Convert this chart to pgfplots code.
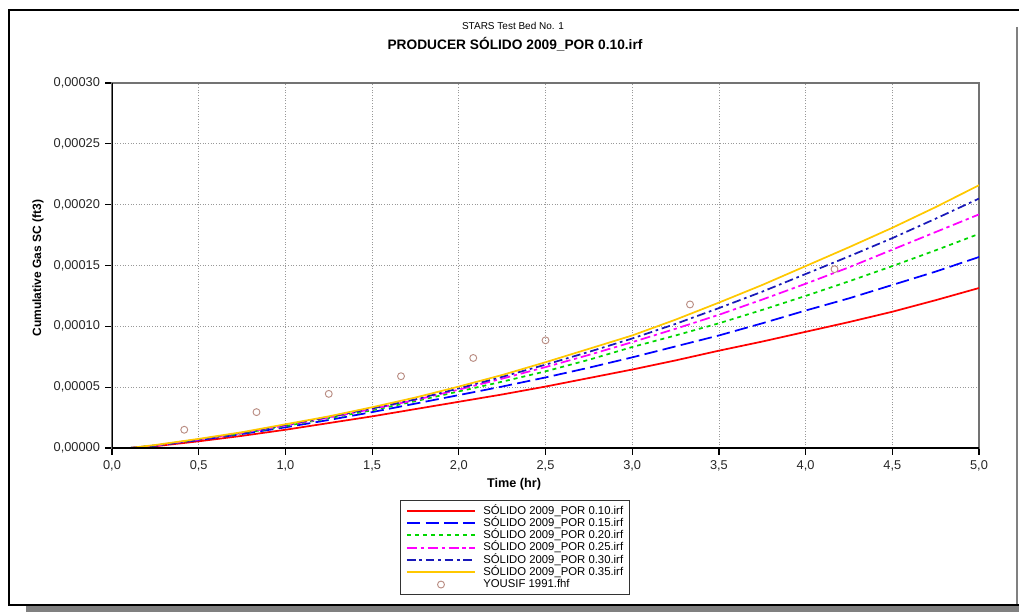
\documentclass[border=0pt]{standalone}
\usepackage{pgfplots}
\usepackage{pgfplotstable}
\pgfplotsset{compat=1.18}
\usepackage{fontspec}
\setmainfont{Liberation Sans}

\definecolor{cred}{RGB}{255,0,0}
\definecolor{cblue}{RGB}{0,0,255}
\definecolor{cgreen}{RGB}{0,215,0}
\definecolor{cmag}{RGB}{255,0,255}
\definecolor{cnavy}{RGB}{25,25,185}
\definecolor{cyel}{RGB}{255,200,0}
\definecolor{cobs}{RGB}{185,140,130}

\pgfplotstableread{
x     r        b        g        m        n        yl
0.00  0        0        0        0        0        0
0.10  0        0        0        0        0        0
0.25  0.15e-5  0.20e-5  0.20e-5  0.20e-5  0.20e-5  0.25e-5
0.50  0.55e-5  0.65e-5  0.70e-5  0.70e-5  0.70e-5  0.75e-5
0.75  1.00e-5  1.15e-5  1.20e-5  1.25e-5  1.25e-5  1.30e-5
1.00  1.50e-5  1.70e-5  1.80e-5  1.85e-5  1.90e-5  1.95e-5
1.25  2.05e-5  2.30e-5  2.45e-5  2.50e-5  2.55e-5  2.60e-5
1.50  2.60e-5  2.95e-5  3.10e-5  3.20e-5  3.25e-5  3.35e-5
1.75  3.20e-5  3.65e-5  3.85e-5  3.95e-5  4.00e-5  4.15e-5
2.00  3.80e-5  4.35e-5  4.65e-5  4.80e-5  4.90e-5  5.05e-5
2.25  4.40e-5  5.05e-5  5.45e-5  5.70e-5  5.85e-5  6.00e-5
2.50  5.05e-5  5.80e-5  6.30e-5  6.65e-5  6.85e-5  7.05e-5
2.75  5.75e-5  6.60e-5  7.25e-5  7.65e-5  7.90e-5  8.15e-5
3.00  6.45e-5  7.45e-5  8.30e-5  8.70e-5  9.00e-5  9.25e-5
3.25  7.20e-5  8.35e-5  9.25e-5  9.80e-5  10.20e-5 10.55e-5
3.50  8.00e-5  9.25e-5  10.25e-5 10.95e-5 11.50e-5 11.95e-5
3.75  8.75e-5  10.25e-5 11.35e-5 12.20e-5 12.85e-5 13.40e-5
4.00  9.55e-5  11.30e-5 12.50e-5 13.50e-5 14.30e-5 14.95e-5
4.25  10.35e-5 12.30e-5 13.70e-5 14.85e-5 15.75e-5 16.50e-5
4.50  11.20e-5 13.40e-5 14.95e-5 16.30e-5 17.25e-5 18.10e-5
4.75  12.15e-5 14.50e-5 16.25e-5 17.75e-5 18.85e-5 19.80e-5
5.00  13.15e-5 15.70e-5 17.60e-5 19.20e-5 20.50e-5 21.60e-5
}\sims

\pgfplotstableread{
x       obs
0.4167  1.50e-5
0.8333  2.95e-5
1.2500  4.45e-5
1.6667  5.90e-5
2.0833  7.40e-5
2.5000  8.85e-5
3.3333  11.80e-5
4.1667  14.70e-5
}\obsdata

\begin{document}
\begin{tikzpicture}[x=0.75pt,y=0.75pt]
\path[use as bounding box] (0,0) rectangle (1019,612);
% outer frame
\fill[black!50] (26,0) rectangle (1019,6);
\draw[line width=1.5pt] (1019,602) -- (9,602) -- (9,7.5) -- (1019,7.5);
\draw[black!50, line width=1pt] (1017,585) -- (1017,8);
% titles
\node[font=\fontsize{7.5}{9}\selectfont] at (513,586) {STARS Test Bed No. 1};
\node[font=\fontsize{10.3}{12}\selectfont\bfseries] at (515,568) {PRODUCER SÓLIDO 2009\_POR 0.10.irf};
% axis labels
\node[font=\fontsize{9.5}{11}\selectfont\bfseries] at (514,128) {Time (hr)};
\node[font=\fontsize{9}{11}\selectfont\bfseries, rotate=90] at (38,344) {Cumulative Gas SC (ft3)};

\begin{axis}[
  at={(84pt,123pt)}, anchor=south west,
  scale only axis,
  width=650.25pt, height=273.75pt,
  xmin=0, xmax=5, ymin=0, ymax=0.0003,
  xtick={0,0.5,1,1.5,2,2.5,3,3.5,4,4.5,5},
  xticklabels={{0,0},{0,5},{1,0},{1,5},{2,0},{2,5},{3,0},{3,5},{4,0},{4,5},{5,0}},
  ytick={0,0.00005,0.0001,0.00015,0.0002,0.00025,0.0003},
  yticklabels={{0,00000},{0,00005},{0,00010},{0,00015},{0,00020},{0,00025},{0,00030}},
  scaled y ticks=false,
  tick label style={font=\fontsize{9.6}{11}\selectfont, text=black!85},
  xtick pos=left, ytick pos=left,
  tick align=outside,
  major tick length=5pt,
  tick style={black, line width=0.9pt},
  xticklabel style={yshift=-1pt},
  yticklabel style={xshift=-0.5pt},
  axis line style={black!55, line width=0.8pt},
  grid=major,
  major grid style={black!40, line width=0.6pt, dash pattern=on 0.8pt off 1.2pt},
  legend style={at={(0.4648,-0.1425)}, anchor=north,
    draw=black!80, line width=1pt, fill=white,
    font=\fontsize{8.5}{9}\selectfont, inner xsep=4pt, inner ysep=3.2pt,
    row sep=0.2pt,
    nodes={inner sep=0.6pt, text height=6.2pt, text depth=1.6pt}},
  legend cell align=left,
  legend image code/.code={%
    \draw[mark repeat=2,mark phase=2,#1,line width=1.5pt] plot coordinates {(0pt,0pt) (25.5pt,0pt) (51pt,0pt)};
    \path (56pt,0pt);},
]
\addplot[color=cred, line width=1.3pt] table[x=x,y=r] {\sims};
\addlegendentry{SÓLIDO 2009\_POR 0.10.irf}
\addplot[color=cblue, line width=1.3pt, dash pattern=on 10pt off 4pt] table[x=x,y=b] {\sims};
\addlegendentry{SÓLIDO 2009\_POR 0.15.irf}
\addplot[color=cgreen, line width=1.3pt, dash pattern=on 3pt off 3pt] table[x=x,y=g] {\sims};
\addlegendentry{SÓLIDO 2009\_POR 0.20.irf}
\addplot[color=cmag, line width=1.3pt, dash pattern=on 7.5pt off 2.8pt on 2.5pt off 2.8pt] table[x=x,y=m] {\sims};
\addlegendentry{SÓLIDO 2009\_POR 0.25.irf}
\addplot[color=cnavy, line width=1.3pt, dash pattern=on 6.5pt off 2.8pt on 2pt off 2.8pt] table[x=x,y=n] {\sims};
\addlegendentry{SÓLIDO 2009\_POR 0.30.irf}
\addplot[color=cyel, line width=1.3pt] table[x=x,y=yl] {\sims};
\addlegendentry{SÓLIDO 2009\_POR 0.35.irf}
\addplot[only marks, mark=o, mark size=2.6pt, mark options={draw=cobs, line width=0.7pt}] table[x=x,y=obs] {\obsdata};
\addlegendentry{YOUSIF 1991.fhf}
\draw[black, line width=1.2pt] (rel axis cs:0,1) -- (rel axis cs:0,0) -- (rel axis cs:1,0);
\end{axis}
\end{tikzpicture}
\end{document}
